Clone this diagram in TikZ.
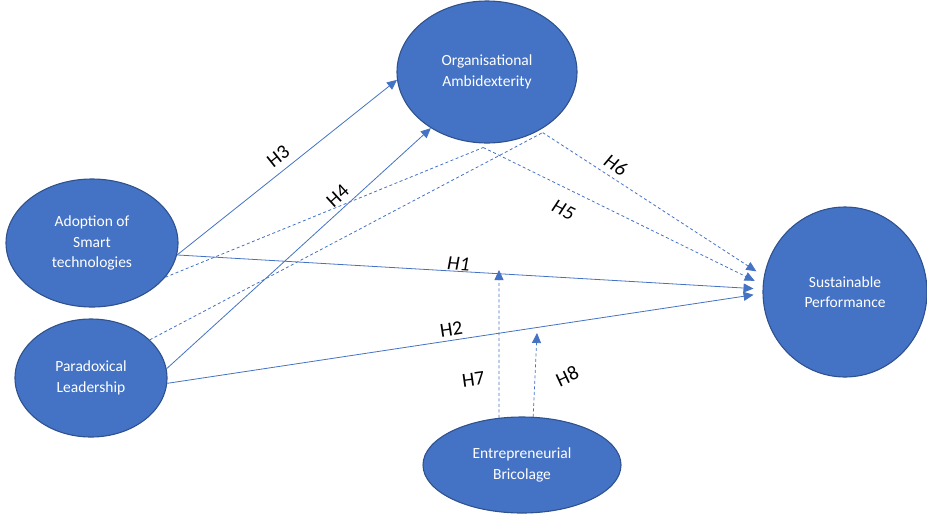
\documentclass[tikz,border=0pt]{standalone}
\usepackage{fontspec}
\setmainfont{Carlito}
\usetikzlibrary{arrows.meta, shapes.geometric}
\definecolor{offblue}{HTML}{4472C4}
\definecolor{offedge}{HTML}{2F528F}

\begin{document}
\begin{tikzpicture}[x=1pt, y=-1pt,
  construct/.style={ellipse, draw=offedge, line width=1.1pt, fill=offblue,
              text=white, align=center, inner sep=0pt,
              font=\fontsize{15.5}{20.5}\selectfont},
  hyparrow/.style={offblue, line width=0.8pt, -{Triangle[length=10pt,width=9pt]}},
  hypdash/.style={offblue, line width=0.8pt, dash pattern=on 3pt off 2.5pt},
  hyp/.style={font=\fontsize{20}{22}\selectfont, text=black, inner sep=1pt}]
  \useasboundingbox (0,0) rectangle (927,515);

  % Constructs
  \node[construct, minimum width=180pt, minimum height=142pt] (oa) at (487,72)
    {Organisational\\Ambidexterity};
  \node[construct, minimum width=172pt, minimum height=128pt] (ast) at (92,243)
    {Adoption of\\Smart\\technologies};
  \node[construct, minimum width=152pt, minimum height=118pt] (pl) at (91,378)
    {Paradoxical\\Leadership};
  \node[construct, minimum width=164pt, minimum height=170pt] (sp) at (845,292)
    {Sustainable\\Performance};
  \node[construct, minimum width=198pt, minimum height=96pt] (eb) at (522,465)
    {Entrepreneurial\\Bricolage};

  % Mediation points below the mediator, moderation tips
  \coordinate (m5) at ([yshift=-4pt]oa.267);
  \coordinate (m6) at ([xshift=2pt, yshift=-3pt]oa.313);
  \coordinate (t7) at (499,270);
  \coordinate (t8) at (537,333);

  % Direct paths
  \draw[hyparrow] (ast.-8) -- (oa.185)
    node[hyp, pos=0.5, sloped, above=6pt] {H3};
  \draw[hyparrow] (pl.7) -- (oa.225)
    node[hyp, pos=0.68, sloped, above=5pt] {H4};
  \draw[hyparrow, shorten >=9pt] (ast.-8) -- (sp.178)
    node[hyp, pos=0.48, sloped, above=0pt] {\itshape H1};
  \draw[hyparrow, shorten >=9pt] (pl.-4) -- (sp.181)
    node[hyp, pos=0.48, sloped, above=3pt] {H2};

  % Mediated paths
  \draw[hypdash] (ast.-25) -- (m5);
  \draw[hypdash] (pl.33) -- (m6);
  \draw[hypdash, -{Triangle[length=10pt,width=9pt]}, shorten >=9pt] (m5) -- (sp.175)
    node[hyp, pos=0.32, sloped, below=13pt] {\itshape H5};
  \draw[hypdash, -{Triangle[length=10pt,width=9pt]}, shorten >=9pt] (m6) -- (sp.169)
    node[hyp, pos=0.3, sloped, above=4pt] {\itshape H6};

  % Moderation
  \draw[hypdash, -{Triangle[length=10pt,width=9pt]}] (eb.116) -- (t7)
    node[hyp, pos=0.27, left=13pt, rotate=8] {H7};
  \draw[hypdash, -{Triangle[length=10pt,width=9pt]}] (eb.77) -- (t8)
    node[hyp, pos=0.42, right=21pt, rotate=25] {H8};
\end{tikzpicture}
\end{document}
